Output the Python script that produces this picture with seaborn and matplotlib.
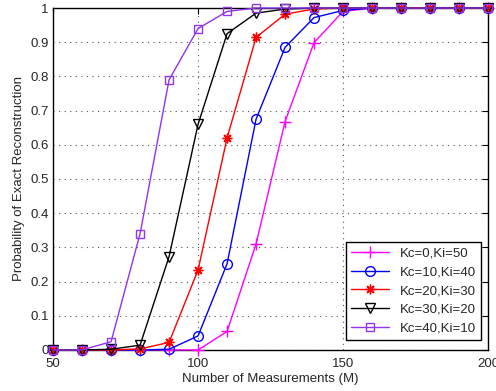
import matplotlib
matplotlib.use("Agg")
import matplotlib.pyplot as plt
import seaborn as sns
import pandas as pd

# Number of measurements M
measurements = [50, 60, 70, 80, 90, 100, 110, 120, 130, 140, 150, 160, 170, 180, 190, 200]

# Probability of exact reconstruction for each (Kc, Ki) split
p_kc0_ki50 = [0, 0, 0, 0, 0, 0, 0.054, 0.31, 0.668, 0.899, 0.99, 1, 1, 1, 1, 1]
p_kc10_ki40 = [0, 0, 0, 0, 0.002, 0.041, 0.252, 0.675, 0.885, 0.972, 0.993, 1, 1, 1, 1, 1]
p_kc20_ki30 = [0, 0, 0, 0.003, 0.022, 0.234, 0.62, 0.914, 0.982, 0.997, 1, 1, 1, 1, 1, 1]
p_kc30_ki20 = [0, 0, 0.002, 0.014, 0.273, 0.66, 0.925, 0.985, 0.997, 1, 1, 1, 1, 1, 1, 1]
p_kc40_ki10 = [0, 0, 0.024, 0.34, 0.79, 0.94, 0.99, 1, 1, 1, 1, 1, 1, 1, 1, 1]

labels = ["Kc=0,Ki=50", "Kc=10,Ki=40", "Kc=20,Ki=30", "Kc=30,Ki=20", "Kc=40,Ki=10"]
series = [p_kc0_ki50, p_kc10_ki40, p_kc20_ki30, p_kc30_ki20, p_kc40_ki10]
colors = ["#ff00ff", "#0000ff", "#ff0000", "#000000", "#9233f0"]
markers = ["+", "o", (8, 2, 0), "v", "s"]
marker_sizes = [8, 7, 7, 7, 6]
open_marker = [False, True, False, True, True]

sns.set_style("white")
plt.rcParams["font.family"] = ["Liberation Sans", "DejaVu Sans"]

fig = plt.figure(figsize=(4.96, 3.91), dpi=100)
ax = fig.add_axes([0.107, 0.105, 0.877, 0.8745])

df = pd.DataFrame({
    "M": measurements * len(series),
    "P": [v for s in series for v in s],
    "Setting": [lab for lab in labels for _ in measurements],
})

for lab, col, mk, ms, op in zip(labels, colors, markers, marker_sizes, open_marker):
    sub = df[df["Setting"] == lab]
    sns.lineplot(data=sub, x="M", y="P", ax=ax, color=col, marker=mk,
                 markersize=ms, markerfacecolor="none" if op else col,
                 markeredgecolor=col, markeredgewidth=1.0, linewidth=1.0,
                 label=lab, clip_on=False, zorder=3)

ax.set_xlim(50, 200)
ax.set_ylim(0, 1)
ax.set_xticks([50, 100, 150, 200])
ax.set_yticks([i / 10 for i in range(11)])
ax.set_yticklabels(["0", "0.1", "0.2", "0.3", "0.4", "0.5", "0.6", "0.7", "0.8", "0.9", "1"])
ax.grid(True, linestyle=(0, (1, 4)), color="#555555", linewidth=0.8)
for sp in ax.spines.values():
    sp.set_color("black")
    sp.set_linewidth(1.0)
ax.tick_params(axis="both", labelsize=9.5, direction="in", length=4, color="black",
               top=True, right=True)
ax.tick_params(axis="x", pad=6)
ax.tick_params(axis="y", pad=3)

ax.set_xlabel("Number of Measurements (M)", fontsize=9.5, labelpad=2)
ax.set_ylabel("Probability of Exact Reconstruction", fontsize=9.5, labelpad=4)

leg = ax.legend(loc="lower right", bbox_to_anchor=(0.984, 0.029), fontsize=9.5,
                fancybox=False, framealpha=1, edgecolor="black", borderaxespad=0,
                handlelength=2.9, labelspacing=0.5, borderpad=0.4)
leg.get_frame().set_linewidth(1.0)

fig.savefig("out.png", dpi=100)
